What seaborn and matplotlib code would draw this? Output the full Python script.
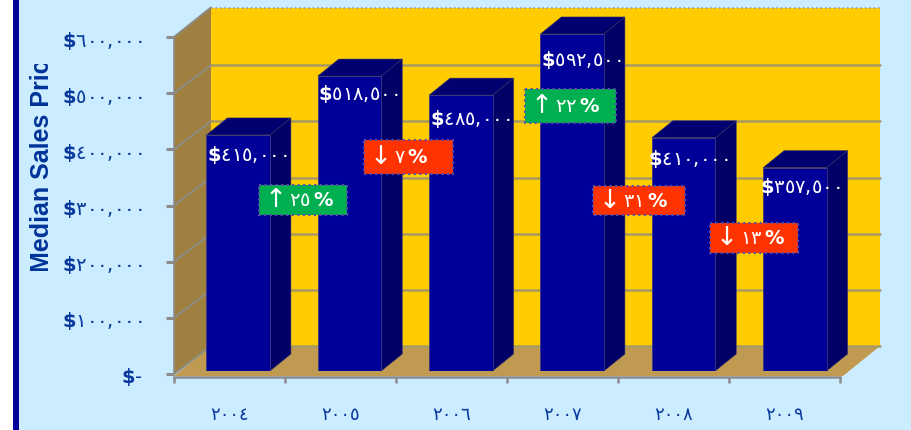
import matplotlib
matplotlib.use("Agg")
import matplotlib.pyplot as plt
import seaborn as sns
import pandas as pd
from matplotlib.patches import Polygon, Rectangle
from matplotlib.transforms import Affine2D, Bbox

years = [2004, 2005, 2006, 2007, 2008, 2009]
prices = [415000, 518500, 485000, 592500, 410000, 357500]
changes = [25, -7, 22, -31, -13]
y_ticks = [0, 100000, 200000, 300000, 400000, 500000, 600000]

W, H = 911, 431
BG, NAVY, TXT = "#CCECFF", "#000099", "#0A3A9E"

sns.set_theme(style="white")
plt.rcParams["font.family"] = ["DejaVu Sans", "Liberation Sans"]
plt.rcParams["mathtext.fontset"] = "custom"
plt.rcParams["mathtext.bf"] = "DejaVu Sans:bold"
plt.rcParams["mathtext.rm"] = "DejaVu Sans"
plt.rcParams["mathtext.it"] = "DejaVu Sans"

AR = str.maketrans("0123456789", "٠١٢٣٤٥٦٧٨٩")
def ar(s):
    return str(s).translate(AR)
def money(v):
    return "$-" if v == 0 else r"$\mathbf{\$}$" + ar(f"{v:,}")

fig = plt.figure(figsize=(W / 100, H / 100), dpi=100, facecolor=BG)
px = Affine2D().scale(1, -1).translate(0, H)   # reference pixel coordinates

def axes_at(l, r, t, b):
    return fig.add_axes([l / W, (H - b) / H, (r - l) / W, (b - t) / H])

fig.patches.append(Rectangle((0, 0), 13, H, transform=px, fc="white", ec="none"))
fig.patches.append(Rectangle((13, 0), 5.5, H, transform=px, fc=NAVY, ec="none"))

# ---- frame axes: walls, floor, ticks
a = axes_at(174, 840, 38, 375)
a.set_xlim(-0.5, 5.5)
a.set_ylim(0, 600000)
a.patch.set_alpha(0)
DX, DY = 37, -28
def to_px(ax, x, y):
    dx, dy = ax.transData.transform((x, y))
    return dx, H - dy

x0, y0 = to_px(a, -0.5, 0)
x1, _ = to_px(a, 5.5, 0)
_, ytop = to_px(a, -0.5, 600000)
def poly(pts, **kw):
    p = Polygon(pts, transform=px, clip_on=False, **kw)
    a.add_patch(p)
    return p
poly([(x0 + DX, ytop - 29.5), (x1 + DX + 3, ytop - 29.5), (x1 + DX + 3, y0 + DY), (x0 + DX, y0 + DY)], fc="#FFCC00", ec="none", zorder=1)
poly([(x0, ytop), (x0 + DX, ytop - 29.5), (x0 + DX, y0 + DY), (x0, y0)], fc="#A08040", ec="none", zorder=1)
poly([(x0, y0 + 2), (x0 + DX, y0 + DY), (x1 + DX + 3, y0 + DY), (x1 + 3, y0 + 2)], fc="#C09A50", ec="none", zorder=1)
for v in y_ticks:
    fx, fy = to_px(a, -0.5, v)
    back = fy + DY - (1.5 if v == 600000 else 0)
    a.plot([fx, fx + DX], [fy, back], transform=px, color="#8C8C80", lw=1.5, clip_on=False, zorder=2)
    if v < 600000:
        a.plot([fx + DX, x1 + DX + 3], [back, back], transform=px, color="#A89A60", lw=1.8, clip_on=False, zorder=2)
a.plot([x0 + DX, x1 + DX + 3], [ytop - 29.5, ytop - 29.5], transform=px, color="#999999", lw=1.2, ls=":", clip_on=False, zorder=3)

sns.despine(ax=a, top=True, right=True)
a.spines["left"].set_color("#8C8C8C")
a.spines["left"].set_linewidth(1.2)
a.spines["bottom"].set_color("#8C8C8C")
a.spines["bottom"].set_linewidth(1.8)
a.spines["bottom"].set_position(("outward", 2.2))
a.set_yticks(y_ticks)
a.set_yticklabels([money(v).replace("$-", r"$\mathbf{\$}$-") if v == 0 else money(v) for v in y_ticks], fontsize=14, color=TXT)
a.tick_params(axis="y", left=True, length=5.8, width=2.2, color="#8C8C8C", pad=17)
a.set_xticks([i - 0.5 for i in range(len(years) + 1)])
a.set_xticklabels([])
a.set_xticks(range(len(years)), [ar(y) for y in years], minor=True, fontsize=13, color=TXT)
a.tick_params(axis="x", which="major", bottom=True, length=4.5, width=1.8, color="#8C8C8C")
a.tick_params(axis="x", which="minor", bottom=False, length=0, pad=20)
a.set_xlabel("")
a.set_ylabel("")

# ---- bars axes
b = axes_at(182.5, 850.5, 372 - 600000 * 0.0005688, 372)
b.patch.set_alpha(0)
df = pd.DataFrame({"year": [str(y) for y in years], "price": prices})
sns.barplot(data=df, x="year", y="price", ax=b, color=NAVY, saturation=1, width=0.57,
            edgecolor="#3A3A80", linewidth=0.6, zorder=5)
b.set_xlim(-0.5, 5.5)
b.set_ylim(0, 600000)
b.axis("off")
fig.canvas.draw()
SX, SY = 21, -17
for pt in list(b.patches):
    ax0, ay1 = to_px(b, pt.get_x(), pt.get_height())
    ax1, ay0 = to_px(b, pt.get_x() + pt.get_width(), 0)
    for pts, c in [([(ax1, ay1), (ax1 + SX, ay1 + SY), (ax1 + SX, ay0 + SY), (ax1, ay0)], "#000066"),
                   ([(ax0, ay1), (ax0 + SX, ay1 + SY), (ax1 + SX, ay1 + SY), (ax1, ay1)], "#000070")]:
        b.add_patch(Polygon(pts, transform=px, fc=c, ec="#30306A", lw=0.4, clip_on=False, zorder=4))

# value labels
label_dx = [9, 9, 9, 9, 5, 5]
label_dy = [19, 17, 23, 25, 20, 18]
for i, v in enumerate(prices):
    lx, ly = to_px(b, i, v)
    b.text(lx + label_dx[i], ly + label_dy[i], money(v), transform=px, ha="center", va="center",
           color="white", fontsize=14, clip_on=False, zorder=8)

# change callouts
boxes = [(259, 347, 186, 216), (364, 453, 141, 175), (525, 616, 90, 124), (593, 685, 187, 216), (710, 798, 224, 254)]
for c, (l, r, t, bt) in zip(changes, boxes):
    up = c > 0
    b.add_patch(Rectangle((l, t), r - l, bt - t, transform=px, fc="#00B050" if up else "#FF3300",
                          ec="#5A4FA8", lw=1.5, ls=":", clip_on=False, zorder=9))
    mid = (t + bt) / 2
    b.text(l + 17, mid - 1, "↑" if up else "↓", transform=px, ha="center", va="center",
           color="white", fontsize=19, clip_on=False, zorder=10)
    b.text(l + 30, mid, ar(abs(c)) + r"$\,\mathbf{\%}$", transform=px, ha="left", va="center",
           color="white", fontsize=14, clip_on=False, zorder=10)

# clipped axis title
t = fig.text(42 / W, 1 - 272 / H, "Median Sales Price", rotation=90, ha="center", va="bottom",
             color="#003399", fontsize=18, fontweight="bold", family="Liberation Sans")
t.set_clip_box(Bbox([[0, H - 272], [60, H - 65]]))
t.set_clip_on(True)

fig.savefig("out.png", dpi=100, facecolor=BG)
